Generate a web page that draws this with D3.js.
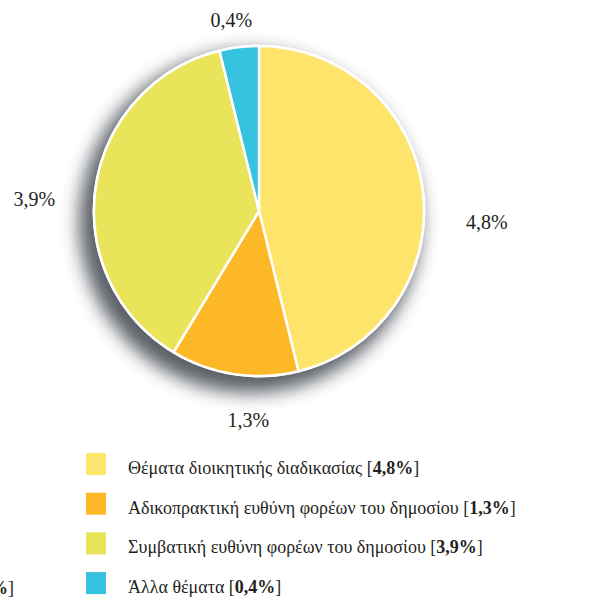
<!DOCTYPE html>
<html>
<head>
<meta charset="utf-8">
<script src="https://cdn.jsdelivr.net/npm/d3@7"></script>
<style>
  body { margin: 0; background: #fff; }
  svg { display: block; font-family: "Liberation Serif", "DejaVu Serif", serif; }
</style>
</head>
<body>
<svg id="chart" width="603" height="601"></svg>
<script>
// ---- data ----
var categories = [
  "Θέματα διοικητικής διαδικασίας",
  "Αδικοπρακτική ευθύνη φορέων του δημοσίου",
  "Συμβατική ευθύνη φορέων του δημοσίου",
  "Άλλα θέματα"
];
var values = [4.8, 1.3, 3.9, 0.4];
var valueLabels = ["4,8%", "1,3%", "3,9%", "0,4%"];
var colors = ["#ffe46c", "#fcb827", "#e9e45a", "#36c3df"];

// label placement tweaks (degrees off the slice middle, radius)
var labelShift = [9.8, -5.7, -5.7, -1.3];
var labelRadius = [228, 209, 225, 193];

var svg = d3.select("#chart");
var cx = 259, cy = 211, r = 165;

var defs = svg.append("defs");
var f = defs.append("filter").attr("id", "shadow")
    .attr("x", "-30%").attr("y", "-30%").attr("width", "160%").attr("height", "160%");
f.append("feGaussianBlur").attr("stdDeviation", 9);

var grp = svg.append("g").attr("transform", "translate(" + cx + "," + cy + ")");

// drop shadow behind the pie
grp.append("circle")
    .attr("cx", -9).attr("cy", 11).attr("r", r + 6)
    .attr("fill", "#4a4f56")
    .attr("opacity", 0.9)
    .attr("filter", "url(#shadow)");

var pie = d3.pie().sort(null).value(function (d) { return d; });
var arcs = pie(values);
var arcGen = d3.arc().innerRadius(0).outerRadius(r);

// white rim round the whole pie
grp.append("circle").attr("r", r + 1.5).attr("fill", "#fff");

grp.selectAll("path.slice")
    .data(arcs)
    .enter()
    .append("path")
    .attr("class", "slice")
    .attr("d", arcGen)
    .attr("fill", function (d, i) { return colors[i]; })
    .attr("stroke", "#fff")
    .attr("stroke-width", 2.5)
    .attr("stroke-linejoin", "round");

// percentage labels around the pie
grp.selectAll("text.lbl")
    .data(arcs)
    .enter()
    .append("text")
    .attr("class", "lbl")
    .attr("transform", function (d, i) {
        var a = (d.startAngle + d.endAngle) / 2 + labelShift[i] * Math.PI / 180;
        var rr = labelRadius[i];
        return "translate(" + (Math.sin(a) * rr) + "," + (-Math.cos(a) * rr) + ")";
    })
    .attr("text-anchor", "middle")
    .attr("dy", "0.35em")
    .attr("font-size", 20)
    .attr("fill", "#231f20")
    .text(function (d, i) { return valueLabels[i]; });

// legend
var legend = svg.append("g").attr("transform", "translate(86,453)");
var rowH = 39.7;

var rows = legend.selectAll("g.row")
    .data(categories)
    .enter()
    .append("g")
    .attr("class", "row")
    .attr("transform", function (d, i) { return "translate(0," + (i * rowH) + ")"; });

rows.append("rect")
    .attr("width", 20).attr("height", 22)
    .attr("fill", function (d, i) { return colors[i]; });

var t = rows.append("text")
    .attr("x", 42).attr("y", 21)
    .attr("font-size", 18)
    .attr("fill", "#231f20");
t.append("tspan").text(function (d) { return d + " ["; });
t.append("tspan").attr("font-weight", "bold").text(function (d, i) { return valueLabels[i]; });
t.append("tspan").text("]");

// tail of a neighbouring legend cut by the frame
var cut = svg.append("text")
    .attr("x", 14).attr("y", 594)
    .attr("text-anchor", "end")
    .attr("font-size", 18)
    .attr("fill", "#231f20");
cut.append("tspan").attr("font-weight", "bold").text("0,4%");
cut.append("tspan").text("]");
</script>
</body>
</html>
